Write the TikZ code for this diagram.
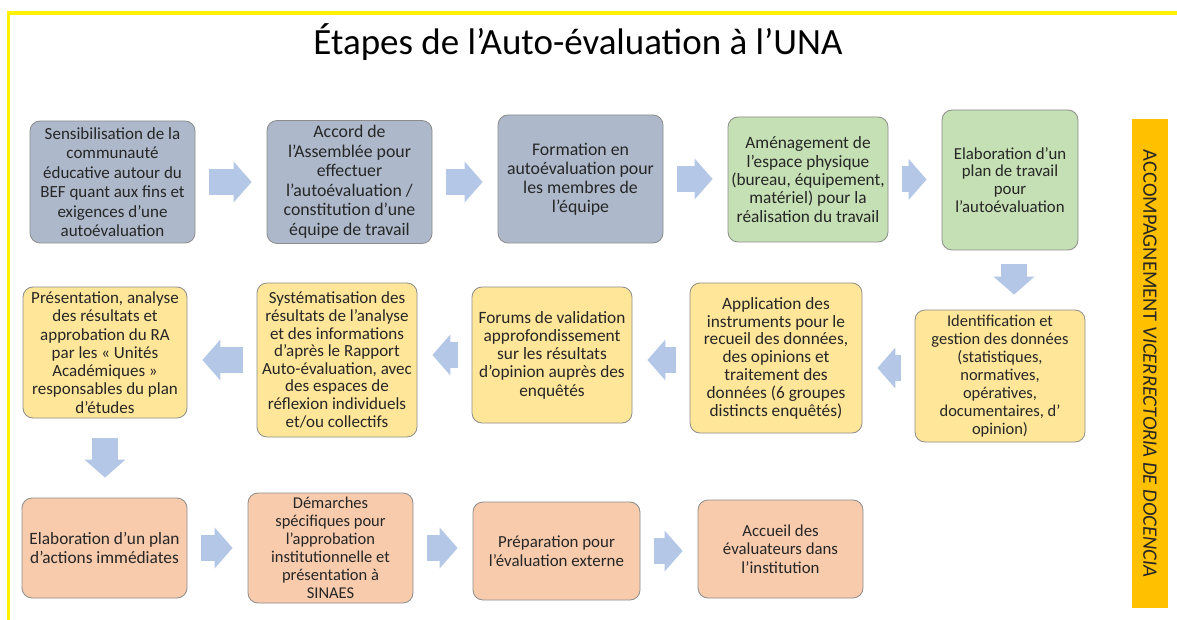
\documentclass[tikz,border=0pt]{standalone}
\usepackage{fontspec}
\setmainfont{Carlito}
\usetikzlibrary{arrows.meta}

\begin{document}
\begin{tikzpicture}[x=1pt,y=-1pt,
  box/.style={draw=black!45, line width=0.8pt, rounded corners=10pt, align=center, inner sep=1pt, text=black!85},
  fs/.style 2 args={font=\fontsize{#1}{#2}\selectfont},
  flow/.style={draw=arrowblue, line width=26pt, -{Triangle[length=18pt,width=40pt]}, shorten <=14pt, shorten >=15pt}]
\definecolor{slate}{RGB}{173,185,202}
\definecolor{leaf}{RGB}{197,224,180}
\definecolor{straw}{RGB}{255,230,153}
\definecolor{peach}{RGB}{248,203,173}
\definecolor{arrowblue}{RGB}{180,199,231}
\definecolor{barorange}{RGB}{255,192,0}
\fill[white] (0,0) rectangle (1177,620);
\useasboundingbox (0,0) rectangle (1177,620);
\draw[yellow, line width=4pt] (7,13) -- (1177,13);
\draw[yellow, line width=3pt] (8.5,11) -- (8.5,620);
\node[fs={37}{44}, anchor=base] (title) at (578,55) {Étapes de l’Auto-évaluation à l’UNA};
\node[box, fs={17}{19.5}, fill=slate, minimum width=165pt, minimum height=122pt] (b1) at (112.5,182) {Sensibilisation de la\\communauté\\éducative autour du\\BEF quant aux fins et\\exigences d’une\\autoévaluation};
\node[box, fs={17.8}{19.5}, fill=slate, minimum width=165pt, minimum height=123pt] (b2) at (349.5,182) {Accord de\\l’Assemblée pour\\effectuer\\l’autoévaluation /\\constitution d’une\\équipe de travail};
\node[box, fs={17.8}{19}, fill=slate, minimum width=165pt, minimum height=128pt] (b3) at (580.5,179) {Formation en\\autoévaluation pour\\les membres de\\l’équipe};
\node[box, fs={17.3}{18.3}, fill=leaf, minimum width=160pt, minimum height=125pt] (b4) at (808,179.5) {Aménagement de\\l’espace physique\\(bureau, équipement,\\matériel) pour la\\réalisation du travail};
\node[box, fs={16.8}{17.8}, fill=leaf, minimum width=136pt, minimum height=140pt] (b5) at (1010,180) {Elaboration d’un\\plan de travail\\pour\\l’autoévaluation};
\node[box, fs={16.5}{18}, fill=straw, minimum width=170pt, minimum height=132pt] (b6) at (1000,376) {Identification et\\gestion des données\\(statistiques,\\normatives,\\opératives,\\documentaires, d’\\opinion)};
\node[box, fs={17.3}{17.8}, fill=straw, minimum width=172pt, minimum height=150pt] (b7) at (776,358) {Application des\\instruments pour le\\recueil des données,\\des opinions et\\traitement des\\données (6 groupes\\distincts enquêtés)};
\node[box, fs={17.3}{18.3}, fill=straw, minimum width=160pt, minimum height=136pt] (b8) at (552,355) {Forums de validation\\approfondissement\\sur les résultats\\d’opinion auprès des\\enquêtés};
\node[box, fs={17}{17.6}, fill=straw, minimum width=160pt, minimum height=154pt] (b9) at (337,360) {Systématisation des\\résultats de l’analyse\\et des informations\\d’après le Rapport\\Auto-évaluation, avec\\des espaces de\\réflexion individuels\\et/ou collectifs};
\node[box, fs={17}{18.3}, fill=straw, minimum width=164pt, minimum height=131pt] (b10) at (105,352.5) {Présentation, analyse\\des résultats et\\approbation du RA\\par les « Unités\\Académiques »\\responsables du plan\\d’études};
\node[box, fs={17.3}{18.5}, fill=peach, minimum width=165pt, minimum height=100pt] (b11) at (104.5,548) {Elaboration d’un plan\\d’actions immédiates};
\node[box, fs={16.5}{18}, fill=peach, minimum width=165pt, minimum height=110pt] (b12) at (330.5,548) {Démarches\\spécifiques pour\\l’approbation\\institutionnelle et\\présentation à\\SINAES};
\node[box, fs={16.9}{18.5}, fill=peach, minimum width=167pt, minimum height=98pt] (b13) at (556.5,551) {Préparation pour\\l’évaluation externe};
\node[box, fs={16.8}{18.5}, fill=peach, minimum width=165pt, minimum height=98pt] (b14) at (780.5,549) {Accueil des\\évaluateurs dans\\l’institution};
\node[fill=barorange, minimum width=489pt, minimum height=36pt, rotate=-90, inner sep=0pt, text=black!85, fs={20.5}{24}] (bar) at (1150,363.5) {ACCOMPAGNEMENT \textit{VICERRECTORIA DE DOCENCIA}};
\foreach \a/\b in {b1/b2,b2/b3,b3/b4,b4/b5,b11/b12,b12/b13,b13/b14}
  \draw[flow] (\a.east) -- (\a.east -| \b.west);
\foreach \a/\b/\s in {b6/b7/8,b7/b8/-2,b8/b9/0,b9/b10/0}
  \draw[flow, transform canvas={yshift=\s pt}] (\a.west) -- (\a.west -| \b.east);
\draw[flow, transform canvas={xshift=4pt}] (b5.south) -- (b5.south |- b6.north);
\draw[flow, shorten <=20pt, shorten >=20pt] (b10.south) -- (b10.south |- b11.north);
\end{tikzpicture}
\end{document}
